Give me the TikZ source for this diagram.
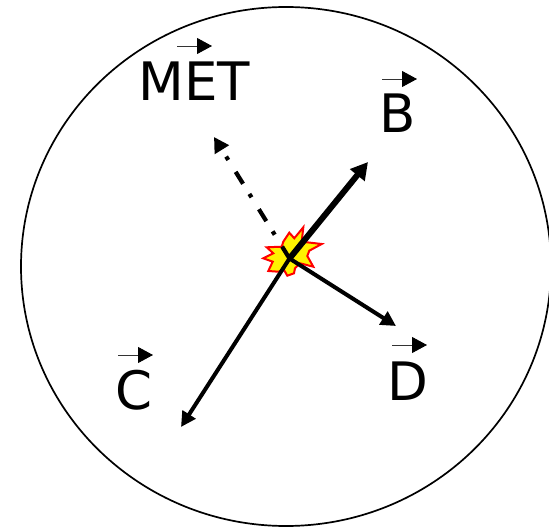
\documentclass[tikz,border=0pt]{standalone}
\usepackage{fontspec}
\setmainfont{DejaVu Sans}
\usetikzlibrary{arrows.meta,shapes.geometric}
\tikzset{
  rim/.style={draw=black,line width=1.7pt,ellipse,inner sep=0pt,minimum width=530pt,minimum height=519pt},
  lab/.style={font=\fontsize{53pt}{60pt}\selectfont,inner sep=0pt,anchor=base,text=black},
  track/.style={line width=4pt,-{Triangle[length=15pt,width=15pt]}},
  thicktrack/.style={line width=6pt,-{Triangle[length=17pt,width=18pt]}},
  mettrack/.style={line width=4.2pt,dash pattern=on 14pt off 14pt on 4pt off 12pt,-{Triangle[length=15pt,width=16pt]}},
  vec/.style={line width=.9pt,draw=black!80,-{Triangle[length=15pt,width=16pt,color=black,fill=black]}},
  burst/.style={draw=red,fill=yellow,line width=2pt,line join=miter}
}
\begin{document}
\begin{tikzpicture}[x=1pt,y=-1pt]
\useasboundingbox (0,0) rectangle (549,529);
\node[rim] (ring) at (286,266.5) {};
\draw[burst] (303.3,227.3) -- (301.7,241.7) -- (321.7,244) -- (309.3,250.7) -- (307.3,256) -- (313.3,266.7) -- (300,263.3) -- (295,268.3) -- (294,273.3) -- (287.3,275.7) -- (284,270) -- (278.3,271.7) -- (268.3,271) -- (272.7,261.7) -- (263.3,258.3) -- (273.3,253.3) -- (266.7,247.3) -- (281.7,246.7) -- (283.3,241.7) -- (289.3,232.7) -- (294.3,238.3) -- cycle;
\coordinate (o) at (289.5,258.5);
\coordinate (bend) at (368,162);
\coordinate (cend) at (181,427);
\coordinate (dend) at (396,326);
\coordinate (mend) at (214,137);
\draw[mettrack] (o) -- (mend);
\draw[track] (o) -- (cend);
\draw[track] (o) -- (dend);
\draw[thicktrack] (o) -- (bend);
\node[lab] (met) at (194.5,101) {MET};
\node[lab] (b) at (398,133) {B};
\node[lab] (c) at (134,409.5) {C};
\node[lab] (d) at (408,400) {D};
\coordinate (ma) at (177,46); \coordinate (mb) at (212,46);
\coordinate (ba) at (382,79); \coordinate (bb) at (417,79);
\coordinate (ca) at (118,355); \coordinate (cb) at (153,355);
\coordinate (da) at (392,345); \coordinate (db) at (427,345);
\draw[vec] (ma) -- (mb);
\draw[vec] (ba) -- (bb);
\draw[vec] (ca) -- (cb);
\draw[vec] (da) -- (db);
\end{tikzpicture}
\end{document}
